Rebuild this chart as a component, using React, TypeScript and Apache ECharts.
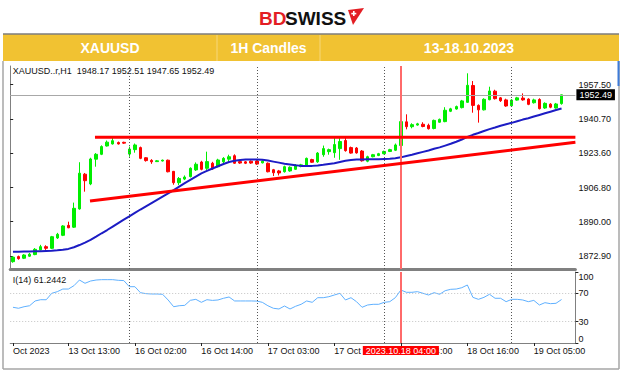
import React, { useEffect, useRef } from "react";
import * as echarts from "echarts";

// ---- time axis (MT4 hourly bars, 23 bars a day) ----
const sessions = [
  { day: "13 Oct", from: 3, to: 23 },
  { day: "16 Oct", from: 1, to: 23 },
  { day: "17 Oct", from: 1, to: 23 },
  { day: "18 Oct", from: 1, to: 23 },
  { day: "19 Oct", from: 1, to: 12 }, // last two slots are the empty chart shift
];
const categories: string[] = [];
sessions.forEach((s) => {
  for (let h = s.from; h <= s.to; h++) categories.push(`${s.day} ${String(h).padStart(2, "0")}:00`);
});
const tickIdx = [0, 10, 22, 34, 46, 58, 70, 82, 94];
const firstTickLabel = "Oct 2023";
const separatorIdx = [21, 44, 67, 90];
const cursorIdx = 70;
const cursorLabel = "2023.10.18 04:00";

// ---- XAUUSD H1 OHLC ----
const opens = [1870.3,1872.8,1872.0,1873.0,1873.8,1876.1,1877.7,1876.9,1882.0,1883.3,
1888.2,1887.3,1896.3,1913.4,1908.6,1920.8,1923.2,1927.3,1928.3,1929.0,
1929.1,1923.3,1925.5,1926.5,1921.5,1920.2,1919.6,1919.9,1920.3,1914.8,
1909.2,1911.0,1912.2,1915.5,1919.4,1916.3,1918.8,1917.1,1919.5,1920.8,
1922.5,1919.6,1919.5,1919.8,1919.9,1919.0,1918.8,1915.6,1915.0,1914.6,
1915.0,1915.8,1917.2,1917.4,1920.6,1919.5,1923.0,1924.5,1924.0,1926.0,
1930.0,1926.5,1926.3,1924.8,1919.8,1922.0,1922.6,1923.5,1924.6,1925.2,
1927.5,1939.2,1936.8,1937.6,1938.0,1937.5,1935.9,1939.0,1939.3,1944.4,
1945.5,1946.2,1948.8,1957.1,1947.3,1945.1,1950.1,1954.3,1951.0,1950.0,
1947.1,1949.9,1950.9,1950.4,1948.6,1950.2,1946.0,1947.9,1946.0,1948.17];
const closes = [1872.5,1871.8,1873.6,1874.0,1876.4,1877.7,1876.9,1882.6,1883.8,1887.9,
1887.0,1896.6,1913.9,1910.2,1920.9,1923.2,1927.0,1929.2,1929.9,1928.3,
1928.7,1925.8,1927.8,1921.2,1920.1,1919.5,1920.0,1920.3,1914.6,1909.2,
1911.3,1912.0,1916.3,1918.3,1915.8,1919.6,1916.0,1920.4,1921.2,1922.0,
1918.8,1918.9,1918.8,1918.9,1918.4,1919.8,1914.6,1914.1,1914.0,1917.1,
1916.8,1917.9,1918.0,1921.2,1919.3,1923.8,1926.0,1925.5,1928.0,1929.5,
1925.0,1923.8,1923.9,1920.0,1922.0,1923.0,1923.5,1924.6,1925.5,1927.8,
1939.3,1936.8,1937.8,1938.2,1936.9,1935.8,1939.9,1940.4,1944.9,1945.6,
1946.7,1949.5,1957.2,1947.3,1945.1,1950.3,1954.4,1950.6,1949.6,1947.0,
1949.9,1951.0,1950.0,1947.8,1950.0,1945.7,1948.3,1946.4,1948.0,1952.49];
const lows = [1869.8,1871.3,1871.6,1872.6,1873.5,1875.8,1876.1,1876.5,1881.5,1882.9,
1886.8,1886.9,1895.9,1904.8,1908.0,1917.1,1922.8,1927.0,1928.0,1928.0,
1928.3,1922.0,1924.0,1920.8,1919.6,1918.5,1919.4,1919.7,1914.3,1908.2,
1908.0,1910.5,1911.8,1915.0,1915.3,1915.5,1915.5,1916.8,1918.5,1919.2,
1918.5,1918.5,1918.4,1918.5,1918.0,1918.7,1914.3,1912.5,1912.8,1914.2,
1914.6,1915.5,1916.8,1917.0,1919.0,1919.0,1922.0,1923.0,1921.5,1920.5,
1924.5,1923.5,1923.5,1919.6,1919.3,1921.7,1922.3,1923.2,1924.3,1924.8,
1927.0,1935.5,1936.0,1937.3,1936.5,1935.4,1935.5,1938.7,1939.0,1944.0,
1945.2,1945.8,1948.5,1943.7,1938.8,1944.8,1949.8,1950.2,1949.0,1946.6,
1946.8,1949.6,1949.6,1947.4,1948.2,1945.3,1945.6,1945.9,1945.7,1947.65];
const highs = [1873.0,1873.3,1874.0,1874.6,1877.0,1878.6,1878.4,1883.0,1884.5,1888.3,
1890.0,1899.4,1919.3,1914.0,1921.5,1923.8,1927.6,1930.0,1931.3,1929.5,
1929.4,1927.0,1928.5,1927.0,1921.8,1920.8,1920.4,1920.6,1920.6,1915.0,
1912.0,1912.8,1916.8,1919.2,1920.0,1924.5,1919.5,1921.0,1921.8,1923.0,
1923.2,1920.0,1919.9,1920.2,1920.3,1920.2,1919.2,1916.0,1915.5,1917.6,
1917.3,1918.4,1918.5,1921.6,1921.0,1924.3,1927.5,1926.0,1931.8,1931.8,
1932.0,1927.0,1926.8,1925.3,1922.5,1923.4,1923.9,1925.0,1925.9,1928.5,
1940.0,1942.9,1938.5,1938.7,1939.0,1938.3,1940.3,1940.8,1946.4,1946.1,
1947.2,1950.0,1963.1,1959.3,1947.8,1950.8,1956.5,1955.0,1951.4,1950.6,
1950.4,1951.5,1953.2,1950.8,1950.6,1950.8,1948.8,1948.4,1948.5,1952.51];

// ---- moving average (blue) ----
const movingAvg = [1875.2,1875.2,1875.3,1875.3,1875.4,1875.5,1875.6,1875.7,1875.9,1876.2,
1876.6,1877.4,1878.5,1879.7,1881.0,1882.6,1884.3,1885.9,1887.6,1889.3,
1891.0,1892.6,1894.3,1896.0,1897.6,1899.2,1900.8,1902.4,1904.0,1905.6,
1907.3,1909.0,1910.6,1912.2,1913.8,1915.0,1916.2,1917.3,1918.4,1919.4,
1920.0,1920.4,1920.6,1920.7,1920.7,1920.5,1920.1,1919.6,1919.1,1918.6,
1918.2,1917.8,1917.5,1917.4,1917.5,1917.7,1918.0,1918.4,1918.8,1919.4,
1920.0,1920.4,1920.6,1920.7,1920.8,1920.8,1920.8,1920.9,1921.0,1921.3,
1921.7,1922.4,1923.0,1923.7,1924.4,1925.1,1925.9,1926.6,1927.5,1928.4,
1929.4,1930.5,1931.8,1932.8,1933.7,1934.7,1935.6,1936.4,1937.3,1938.0,
1938.7,1939.5,1940.3,1941.0,1941.8,1942.6,1943.4,1944.2,1945.0,1945.8];

// ---- RSI(14) ----
const rsi = [50.3,48.9,51.1,52.5,59.2,61.0,60.9,70.0,72.3,76.0,
76.0,80.7,88.7,84.1,87.3,88.7,89.2,89.2,89.2,88.3,
87.9,79.3,79.3,70.9,69.5,69.0,69.0,68.6,60.6,51.1,
52.5,53.0,60.1,61.5,57.3,61.0,60.0,60.6,63.0,64.8,
59.2,59.2,59.2,59.2,59.0,57.3,52.5,48.9,47.9,52.1,
47.9,51.7,54.5,59.2,57.3,63.8,63.8,65.2,67.6,70.0,
60.6,63.8,58.2,50.3,53.5,54.5,54.5,57.3,58.2,63.8,
74.6,71.4,71.4,72.3,70.0,67.6,70.9,68.6,73.7,75.6,
76.0,77.9,81.7,64.3,61.5,64.3,68.6,63.0,63.0,58.2,
61.5,61.5,60.6,58.2,60.0,53.5,56.8,55.4,55.9,61.2442];
const rsiLevels = [70, 30];

// ---- drawn trend lines [bar position, price] ----
const resistanceLine = [[15.3, 1931.6], [102, 1931.6]];
const supportLine = [[14.4, 1900.2], [102, 1929.1]];

// ---- axis ticks / texts ----
const priceTicks = [1872.9, 1890.0, 1906.8, 1923.6, 1940.7, 1957.5];
const rsiTicks = [0, 30, 70, 100];
const lastPrice = 1952.49;
const headerText = "XAUUSD..r,H1  1948.17 1952.51 1947.65 1952.49";
const rsiText = "I(14) 61.2442";
const bannerTexts = ["XAUUSD", "1H Candles", "13-18.10.2023"];

const FONT = '"Liberation Sans", Arial, sans-serif';

export default function App() {
  const ref = useRef<HTMLDivElement>(null);
  useEffect(() => {
    if (!ref.current) return;
    const chart = echarts.init(ref.current, null, { renderer: "svg" });
    const candles = opens.map((o, i) => [o, closes[i], lows[i], highs[i]]);
    const showTick = (i: number) => tickIdx.includes(i);
    const sepLines = separatorIdx.map((i) => ({
      xAxis: i,
      lineStyle: { color: "#555", width: 1, type: [1, 2] },
    }));
    const option: any = {
      animation: false,
      backgroundColor: "#fff",
      grid: [
        { left: 10.2, right: 48.6, top: 66, height: 203 },
        { left: 10.2, right: 48.6, top: 272, height: 71 },
      ],
      xAxis: [
        {
          type: "category", gridIndex: 0, data: categories, boundaryGap: true,
          axisLine: { lineStyle: { color: "#808080", width: 3 } },
          axisTick: { show: false }, axisLabel: { show: false }, splitLine: { show: false },
        },
        { type: "value", gridIndex: 0, min: 0, max: 102, show: false },
        {
          type: "category", gridIndex: 1, data: categories, boundaryGap: true,
          axisLine: { lineStyle: { color: "#808080", width: 1 } },
          axisTick: { show: true, alignWithLabel: true, interval: showTick, length: 3, lineStyle: { color: "#222" } },
          axisLabel: {
            interval: showTick, align: "left", margin: 3, fontSize: 9, fontFamily: FONT, color: "#111",
            formatter: (v: string, i: number) => (i === 0 ? firstTickLabel : v),
          },
          splitLine: { show: false },
        },
      ],
      yAxis: [
        {
          type: "value", gridIndex: 0, position: "right", min: 1866.7, max: 1966.7,
          axisLine: { show: true, lineStyle: { color: "#808080" } },
          axisTick: { show: true, customValues: priceTicks, length: 3, lineStyle: { color: "#222" } },
          axisLabel: { customValues: priceTicks, formatter: (v: number) => v.toFixed(2), fontSize: 9, fontFamily: FONT, color: "#111", margin: 3 },
          splitLine: { show: false },
        },
        {
          type: "value", gridIndex: 1, position: "right", min: 0, max: 100,
          axisLine: { show: true, lineStyle: { color: "#808080" } },
          axisTick: { show: true, customValues: rsiTicks, length: 3, lineStyle: { color: "#222" } },
          axisLabel: {
            customValues: rsiTicks, fontSize: 9, fontFamily: FONT, color: "#111", margin: 3,
            verticalAlignMinLabel: "bottom", verticalAlignMaxLabel: "top",
          },
          splitLine: { show: false },
        },
      ],
      series: [
        {
          type: "candlestick", xAxisIndex: 0, yAxisIndex: 0, data: candles, barWidth: 3,
          itemStyle: { color: "#00ee00", color0: "#ff0000", borderColor: "#00ee00", borderColor0: "#ff0000", borderWidth: 1 },
          markLine: {
            silent: true, symbol: "none", label: { show: false },
            data: [
              ...sepLines,
              {
                yAxis: lastPrice, lineStyle: { color: "#a8a8a8", width: 1, type: "solid" },
                label: {
                  show: true, position: "end", distance: 1, formatter: lastPrice.toFixed(2),
                  backgroundColor: "#000", color: "#fff", padding: [1, 3, 0, 3], fontSize: 9, fontFamily: FONT, lineHeight: 10,
                },
              },
              { xAxis: cursorIdx, lineStyle: { color: "#ff6a6a", width: 2, type: "solid" } },
            ],
          },
          z: 2,
        },
        {
          type: "line", xAxisIndex: 0, yAxisIndex: 0, data: movingAvg, showSymbol: false, symbol: "none",
          lineStyle: { color: "#1c1cc4", width: 2 }, z: 4,
        },
        {
          type: "line", xAxisIndex: 1, yAxisIndex: 0, data: resistanceLine, showSymbol: false, symbol: "none",
          lineStyle: { color: "#ff0000", width: 3 }, z: 5,
        },
        {
          type: "line", xAxisIndex: 1, yAxisIndex: 0, data: supportLine, showSymbol: false, symbol: "none",
          lineStyle: { color: "#ff0000", width: 3 }, z: 5,
        },
        {
          type: "line", xAxisIndex: 2, yAxisIndex: 1, data: rsi, showSymbol: false, symbol: "none",
          lineStyle: { color: "#5fb0ff", width: 1 }, z: 4,
          markLine: {
            silent: true, symbol: "none", label: { show: false },
            data: [
              ...rsiLevels.map((v) => ({ yAxis: v, lineStyle: { color: "#c4c4c4", width: 1, type: [1, 2] } })),
              ...sepLines,
              {
                xAxis: cursorIdx, lineStyle: { color: "#ff6a6a", width: 2, type: "solid" },
                label: {
                  show: true, position: "start", distance: 3, formatter: cursorLabel,
                  backgroundColor: "#ff0000", color: "#fff", padding: [0, 3, 0, 3], fontSize: 9, fontFamily: FONT, lineHeight: 9,
                },
              },
            ],
          },
        },
      ],
      graphic: [
        // frame
        { type: "line", shape: { x1: 3, y1: 61, x2: 3, y2: 369 }, style: { stroke: "#a6a6a6", lineWidth: 1.5 } },
        { type: "line", shape: { x1: 3, y1: 369, x2: 619, y2: 369 }, style: { stroke: "#a6a6a6", lineWidth: 1.5 } },
        { type: "line", shape: { x1: 619, y1: 61, x2: 619, y2: 369 }, style: { stroke: "#a6a6a6", lineWidth: 1.5 } },
        { type: "rect", shape: { x: 617.5, y: 61, width: 2, height: 25 }, style: { fill: "#3d7bd8" } },
        // banner
        { type: "rect", shape: { x: 3, y: 34, width: 616, height: 27 }, style: { fill: "#F1C232" } },
        { type: "line", shape: { x1: 3, y1: 34, x2: 619, y2: 34 }, style: { stroke: "#7d7d7d", lineWidth: 1.5 } },
        { type: "line", shape: { x1: 217, y1: 35, x2: 217, y2: 61 }, style: { stroke: "#f6d77a", lineWidth: 1 } },
        { type: "line", shape: { x1: 320, y1: 35, x2: 320, y2: 61 }, style: { stroke: "#f6d77a", lineWidth: 1 } },
        ...bannerTexts.map((t, k) => ({
          type: "text",
          style: { text: t, x: [110, 268.5, 469][k], y: 48, align: "center", verticalAlign: "middle", fill: "#fff", fontSize: 14, fontWeight: "bold", fontFamily: FONT },
        })),
        // logo
        { type: "text", style: { text: "BD", x: 259, y: 18, verticalAlign: "middle", fill: "#e31e24", fontSize: 19, fontWeight: 900, fontFamily: FONT } },
        { type: "text", style: { text: "SWISS", x: 285, y: 18, verticalAlign: "middle", fill: "#111", fontSize: 19, fontWeight: 900, fontFamily: FONT } },
        { type: "polygon", shape: { points: [[348, 10], [364, 8], [353, 25]] }, style: { fill: "#e31e24" } },
        { type: "rect", shape: { x: 351.3, y: 12.8, width: 5, height: 1.6 }, style: { fill: "#fff" } },
        { type: "rect", shape: { x: 353, y: 11.1, width: 1.6, height: 5 }, style: { fill: "#fff" } },
        // chart texts
        { type: "text", style: { text: headerText, x: 12.7, y: 71, verticalAlign: "middle", fill: "#111", fontSize: 9, fontFamily: FONT } },
        { type: "text", style: { text: rsiText, x: 12.7, y: 279.5, verticalAlign: "middle", fill: "#111", fontSize: 9, fontFamily: FONT } },
      ],
    };
    chart.setOption(option);
    return () => chart.dispose();
  }, []);
  return <div ref={ref} style={{ position: "fixed", left: 0, top: 0, width: 624, height: 372, background: "#fff" }} />;
}
